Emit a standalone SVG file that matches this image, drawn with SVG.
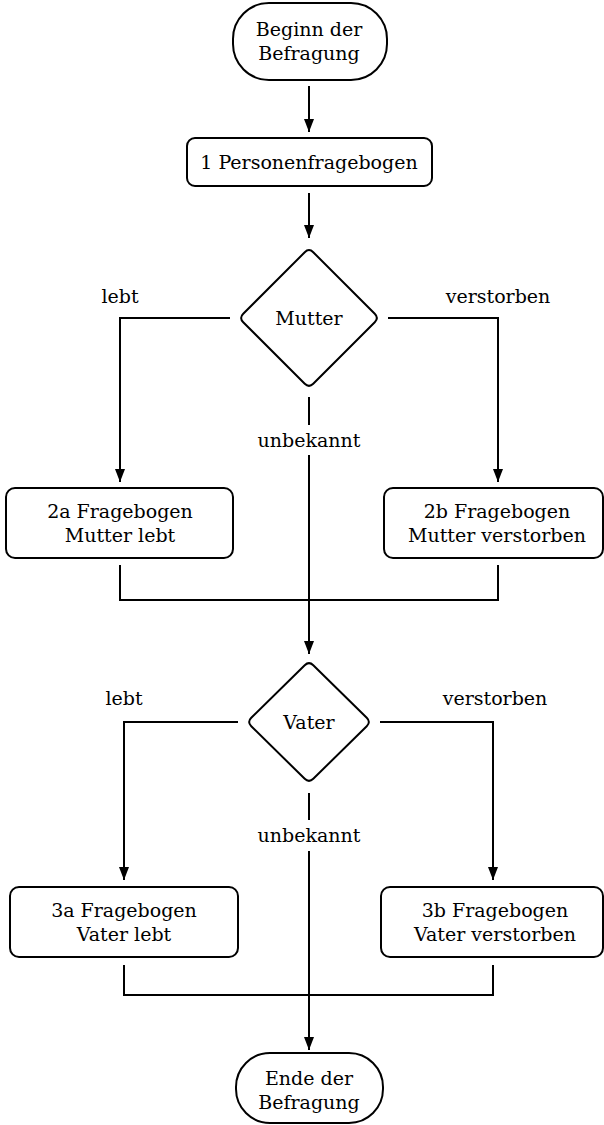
<svg xmlns="http://www.w3.org/2000/svg" width="604" height="1125" viewBox="0 0 604 1125">
<style>
.n{fill:#fff;stroke:#000;stroke-width:2}
.t{font-family:"DejaVu Serif","Liberation Serif","Noto Serif",serif;font-size:19px;text-anchor:middle;fill:#000}
.c{fill:none;stroke:#000;stroke-width:2;stroke-linecap:butt}
.a{marker-end:url(#ah)}
</style>
<defs>
<marker id="ah" markerUnits="userSpaceOnUse" markerWidth="14" markerHeight="11" refX="13" refY="5.5" orient="auto">
<path d="M0,0.5 L13,5.5 L0,10.5 Z" fill="#000"/>
</marker>
</defs>
<rect width="604" height="1125" fill="#fff"/>
<g id="connectors">
<path class="c a" d="M309,86 V132"/>
<path class="c a" d="M309,193 V238"/>
<path class="c a" d="M230,318 H120 V482"/>
<path class="c a" d="M388,318 H498 V482"/>
<path class="c" d="M309,397 V425"/>
<path class="c a" d="M309,455 V654"/>
<path class="c" d="M120,565 V600 H498 V565"/>
<path class="c a" d="M238,722 H124 V880"/>
<path class="c a" d="M380,722 H493 V880"/>
<path class="c" d="M309,793 V820"/>
<path class="c a" d="M309,851 V1050"/>
<path class="c" d="M124,965 V995 H493 V965"/>
<text class="t" x="120" y="303">lebt</text>
<text class="t" x="498" y="303">verstorben</text>
<text class="t" x="309" y="447">unbekannt</text>
<text class="t" x="124" y="705">lebt</text>
<text class="t" x="495" y="705">verstorben</text>
<text class="t" x="309" y="842">unbekannt</text>
</g>
<g id="start">
<rect class="n" x="233" y="3" width="154" height="77" rx="36" ry="36"/>
<text class="t" x="309" y="36">Beginn der</text>
<text class="t" x="309" y="60">Befragung</text>
</g>
<g id="personen">
<rect class="n" x="187" y="138" width="245" height="48" rx="8"/>
<text class="t" x="309" y="169">1 Personenfragebogen</text>
</g>
<g id="mutter">
<path class="n" d="M304.76,252.24 Q309,248 313.24,252.24 L374.76,313.76 Q379,318 374.76,322.24 L313.24,383.76 Q309,388 304.76,383.76 L243.24,322.24 Q239,318 243.24,313.76 Z"/>
<text class="t" x="309" y="325">Mutter</text>
</g>
<g id="f2a">
<rect class="n" x="6" y="488" width="227" height="70" rx="9"/>
<text class="t" x="120" y="518">2a Fragebogen</text>
<text class="t" x="120" y="542">Mutter lebt</text>
</g>
<g id="f2b">
<rect class="n" x="384" y="488" width="219" height="70" rx="9"/>
<text class="t" x="497" y="518">2b Fragebogen</text>
<text class="t" x="497" y="542">Mutter verstorben</text>
</g>
<g id="vater">
<path class="n" d="M304.72,665.21 Q309,661 313.28,665.21 L366.72,717.79 Q371,722 366.72,726.21 L313.28,778.79 Q309,783 304.72,778.79 L251.28,726.21 Q247,722 251.28,717.79 Z"/>
<text class="t" x="309" y="729">Vater</text>
</g>
<g id="f3a">
<rect class="n" x="10" y="887" width="228" height="70" rx="9"/>
<text class="t" x="124" y="917">3a Fragebogen</text>
<text class="t" x="124" y="941">Vater lebt</text>
</g>
<g id="f3b">
<rect class="n" x="381" y="887" width="222" height="70" rx="9"/>
<text class="t" x="495" y="917">3b Fragebogen</text>
<text class="t" x="495" y="941">Vater verstorben</text>
</g>
<g id="ende">
<rect class="n" x="236" y="1053" width="147" height="70" rx="34" ry="34"/>
<text class="t" x="309" y="1085">Ende der</text>
<text class="t" x="309" y="1109">Befragung</text>
</g>
</svg>
